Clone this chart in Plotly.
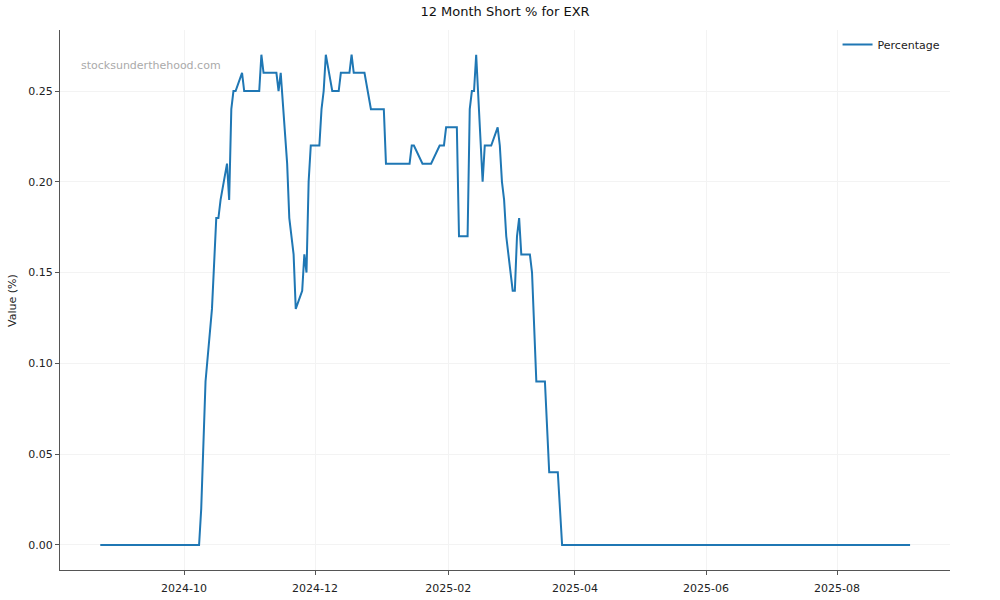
import plotly.graph_objects as go

dates = [
    "2024-08-23", "2024-10-08", "2024-10-09", "2024-10-10", "2024-10-11",
    "2024-10-14", "2024-10-15", "2024-10-16", "2024-10-17", "2024-10-18",
    "2024-10-21", "2024-10-22", "2024-10-23", "2024-10-24", "2024-10-25",
    "2024-10-28", "2024-10-29", "2024-11-05", "2024-11-06", "2024-11-07",
    "2024-11-13", "2024-11-14", "2024-11-15", "2024-11-18", "2024-11-19",
    "2024-11-21", "2024-11-22", "2024-11-25", "2024-11-26", "2024-11-27",
    "2024-11-28", "2024-11-29", "2024-12-03", "2024-12-04", "2024-12-05",
    "2024-12-06", "2024-12-09", "2024-12-12", "2024-12-13", "2024-12-17",
    "2024-12-18", "2024-12-19", "2024-12-24", "2024-12-27", "2025-01-02",
    "2025-01-03", "2025-01-14", "2025-01-15", "2025-01-16", "2025-01-20",
    "2025-01-24", "2025-01-28", "2025-01-30", "2025-01-31", "2025-02-05",
    "2025-02-06", "2025-02-10", "2025-02-11", "2025-02-12", "2025-02-13",
    "2025-02-14", "2025-02-17", "2025-02-18", "2025-02-21", "2025-02-24",
    "2025-02-25", "2025-02-26", "2025-02-27", "2025-02-28", "2025-03-03",
    "2025-03-04", "2025-03-05", "2025-03-06", "2025-03-07", "2025-03-11",
    "2025-03-12", "2025-03-14", "2025-03-18", "2025-03-20", "2025-03-24",
    "2025-03-26", "2025-09-04",
]
percentage = [
    0.00, 0.00, 0.02, 0.06, 0.09,
    0.13, 0.16, 0.18, 0.18, 0.19,
    0.21, 0.19, 0.24, 0.25, 0.25,
    0.26, 0.25, 0.25, 0.27, 0.26,
    0.26, 0.25, 0.26, 0.21, 0.18,
    0.16, 0.13, 0.14, 0.16, 0.15,
    0.20, 0.22, 0.22, 0.24, 0.25,
    0.27, 0.25, 0.25, 0.26, 0.26,
    0.27, 0.26, 0.26, 0.24, 0.24,
    0.21, 0.21, 0.22, 0.22, 0.21,
    0.21, 0.22, 0.22, 0.23, 0.23,
    0.17, 0.17, 0.24, 0.25, 0.25,
    0.27, 0.20, 0.22, 0.22, 0.23,
    0.22, 0.20, 0.19, 0.17, 0.14,
    0.14, 0.17, 0.18, 0.16, 0.16,
    0.15, 0.09, 0.09, 0.04, 0.04,
    0.00, 0.00,
]
x_ticks = ["2024-10-01", "2024-12-01", "2025-02-01", "2025-04-01", "2025-06-01", "2025-08-01"]
x_tick_labels = ["2024-10", "2024-12", "2025-02", "2025-04", "2025-06", "2025-08"]
y_ticks = [0.00, 0.05, 0.10, 0.15, 0.20, 0.25]

FONT = "DejaVu Sans"
AXIS_COLOR = "#555555"
GRID_COLOR = "#f3f3f3"
TEXT_COLOR = "#222222"

fig = go.Figure()
fig.add_trace(go.Scatter(
    x=dates, y=percentage, mode="lines", name="Percentage",
    line=dict(color="#1f77b4", width=2),
))

fig.update_layout(
    width=1000, height=600,
    paper_bgcolor="white", plot_bgcolor="white",
    margin=dict(l=60, r=50, t=30, b=30, autoexpand=False),
    font=dict(family=FONT, size=11, color=TEXT_COLOR),
    title=dict(text="12 Month Short % for EXR", x=0.505, xanchor="center",
               y=0.981, yanchor="middle", font=dict(family=FONT, size=13, color="#111111")),
    showlegend=True,
    legend=dict(x=0.995, xanchor="right", y=1.0, yanchor="top",
                bgcolor="rgba(255,255,255,0)", font=dict(family=FONT, size=11, color=TEXT_COLOR),
                itemwidth=30),
    xaxis=dict(
        type="date", range=["2024-08-04 06:00", "2025-09-22 14:00"],
        tickvals=x_ticks, ticktext=x_tick_labels, automargin=False,
        showgrid=True, gridcolor=GRID_COLOR, gridwidth=1,
        showline=True, linecolor=AXIS_COLOR, linewidth=1.2,
        ticks="outside", ticklen=4, tickcolor=AXIS_COLOR, zeroline=False,
        ticklabelstandoff=4,
        tickfont=dict(family=FONT, size=11, color=TEXT_COLOR),
    ),
    yaxis=dict(
        range=[-0.0138, 0.2836], automargin=False,
        tickvals=y_ticks, tickformat=".2f",
        showgrid=True, gridcolor=GRID_COLOR, gridwidth=1,
        showline=True, linecolor=AXIS_COLOR, linewidth=1.2,
        ticks="outside", ticklen=4, tickcolor=AXIS_COLOR, zeroline=False,
        tickfont=dict(family=FONT, size=11, color=TEXT_COLOR),
    ),
)

fig.add_annotation(
    text="Value (%)", xref="paper", yref="paper",
    x=-0.054, y=0.5, xanchor="center", yanchor="middle", textangle=-90,
    showarrow=False, font=dict(family=FONT, size=11, color=TEXT_COLOR),
)

fig.add_annotation(
    text="stocksunderthehood.com", xref="paper", yref="paper",
    x=0.021, y=0.935, xanchor="left", yanchor="middle", showarrow=False,
    font=dict(family=FONT, size=11, color="#aaaaaa"),
)

fig.write_html(
    "out.html",
    config={"displayModeBar": False},
    post_script="document.body.style.margin='0px';document.body.style.overflow='hidden';",
)
